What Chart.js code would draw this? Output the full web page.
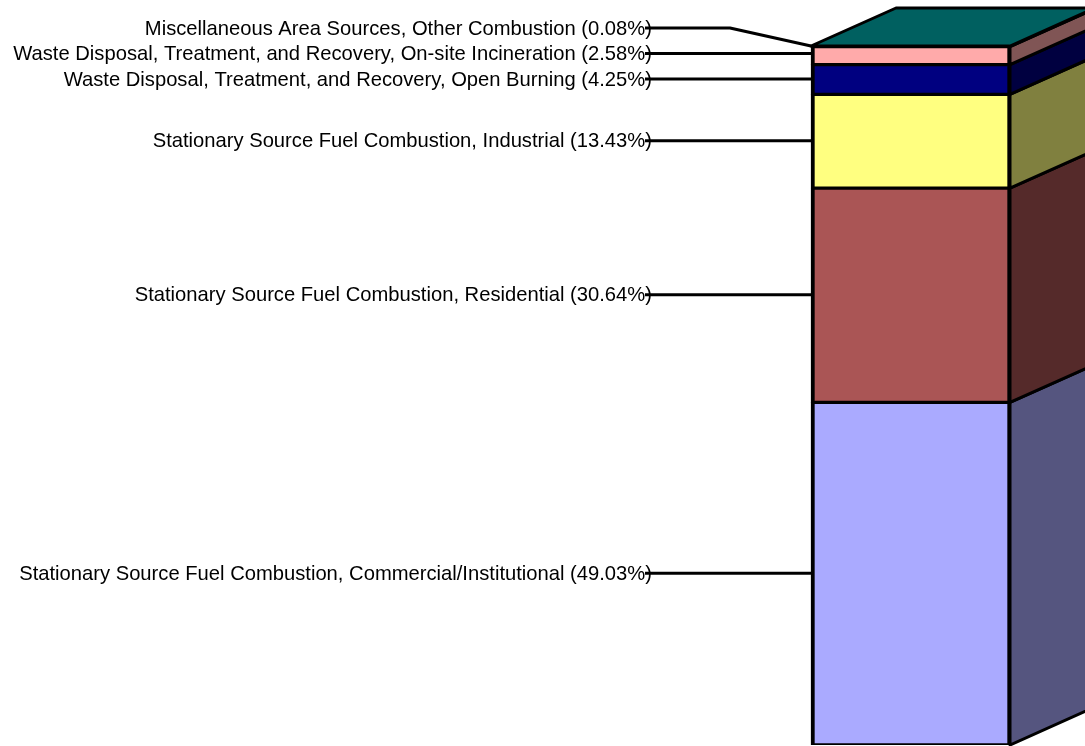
<!DOCTYPE html>
<html>
<head>
<meta charset="utf-8">
<script src="https://cdn.jsdelivr.net/npm/chart.js@4/dist/chart.umd.min.js"></script>
<style>
  html, body { margin: 0; padding: 0; background: #fff; }
  #wrap { width: 1085px; height: 746px; position: relative; }
</style>
</head>
<body>
<div id="wrap"><canvas id="viz"></canvas></div>
<script>
// data, bottom of the stack first
var categories = ['Emissions'];
var sources = [
  'Stationary Source Fuel Combustion, Commercial/Institutional',
  'Stationary Source Fuel Combustion, Residential',
  'Stationary Source Fuel Combustion, Industrial',
  'Waste Disposal, Treatment, and Recovery, Open Burning',
  'Waste Disposal, Treatment, and Recovery, On-site Incineration',
  'Miscellaneous Area Sources, Other Combustion'
];
var shares = [49.03, 30.64, 13.43, 4.25, 2.58, 0.08];

var frontColors = ['#aaaaff', '#aa5555', '#ffff80', '#000080', '#ffaaaa', '#008080'];
var sideColors = ['#55557f', '#552a2a', '#80803f', '#000040', '#805555', '#004040'];
var topColor = '#006060';

var total = shares.reduce(function (a, b) { return a + b; }, 0);

var depth = { dx: 85, dy: -38 };

var depthPlugin = {
  id: 'depth',
  afterDatasetsDraw: function (chart) {
    var ctx = chart.ctx;
    var bars = chart.data.datasets.map(function (ds, i) {
      return chart.getDatasetMeta(i).data[0];
    });
    ctx.save();
    ctx.lineWidth = 3;
    ctx.strokeStyle = '#000';
    ctx.lineJoin = 'round';

    // right side faces
    bars.forEach(function (bar, i) {
      var r = bar.x + bar.width / 2;
      ctx.beginPath();
      ctx.moveTo(r, bar.base);
      ctx.lineTo(r, bar.y);
      ctx.lineTo(r + depth.dx, bar.y + depth.dy);
      ctx.lineTo(r + depth.dx, bar.base + depth.dy);
      ctx.closePath();
      ctx.fillStyle = sideColors[i];
      ctx.fill();
      ctx.stroke();
    });

    // top face
    var last = bars[bars.length - 1];
    var l = last.x - last.width / 2, rr = last.x + last.width / 2, t = last.y;
    ctx.beginPath();
    ctx.moveTo(l, t);
    ctx.lineTo(l + depth.dx, t + depth.dy);
    ctx.lineTo(rr + depth.dx, t + depth.dy);
    ctx.lineTo(rr, t);
    ctx.closePath();
    ctx.fillStyle = topColor;
    ctx.fill();
    ctx.stroke();

    // labels with leader lines
    ctx.font = '20.2px "Liberation Sans", Arial, sans-serif';
    ctx.fillStyle = '#000';
    ctx.textAlign = 'right';
    ctx.textBaseline = 'middle';
    var textRight = 652, lineStart = 645, elbow = 730;
    var prev = Infinity;
    bars.forEach(function (bar, i) {
      var anchor = (bar.y + bar.base) / 2 - 0.5;
      var ly = Math.min(anchor, prev - 25.5);
      prev = ly;
      var left = bar.x - bar.width / 2;
      ctx.fillText(sources[i] + ' (' + shares[i].toFixed(2) + '%)', textRight, ly + 1);
      ctx.beginPath();
      ctx.moveTo(lineStart, ly);
      if (ly >= bar.y - 1 && ly <= bar.base) {
        ctx.lineTo(left, ly);
      } else {
        ctx.lineTo(elbow, ly);
        ctx.lineTo(left, Math.max(bar.y, Math.min(ly, bar.base)));
      }
      ctx.lineWidth = 3;
      ctx.stroke();
    });
    ctx.restore();
  }
};

var context = document.getElementById('viz').getContext('2d');

var chart = new Chart(context, {
  type: 'bar',
  data: {
    labels: categories,
    datasets: shares.map(function (v, i) {
      return {
        label: sources[i],
        data: [v],
        backgroundColor: frontColors[i],
        borderColor: '#000',
        borderWidth: { left: 4, right: 3, top: 2, bottom: 2 },
        borderSkipped: false,
        barThickness: 199
      };
    })
  },
  options: {
    responsive: true,
    maintainAspectRatio: false,
    animation: false,
    layout: { padding: { left: 736, right: 0, top: 46, bottom: 1 } },
    plugins: { legend: { display: false }, tooltip: { enabled: false } },
    scales: {
      x: { stacked: true, display: false },
      y: { stacked: true, display: false, min: 0, max: total }
    }
  },
  plugins: [depthPlugin]
});
</script>
</body>
</html>
